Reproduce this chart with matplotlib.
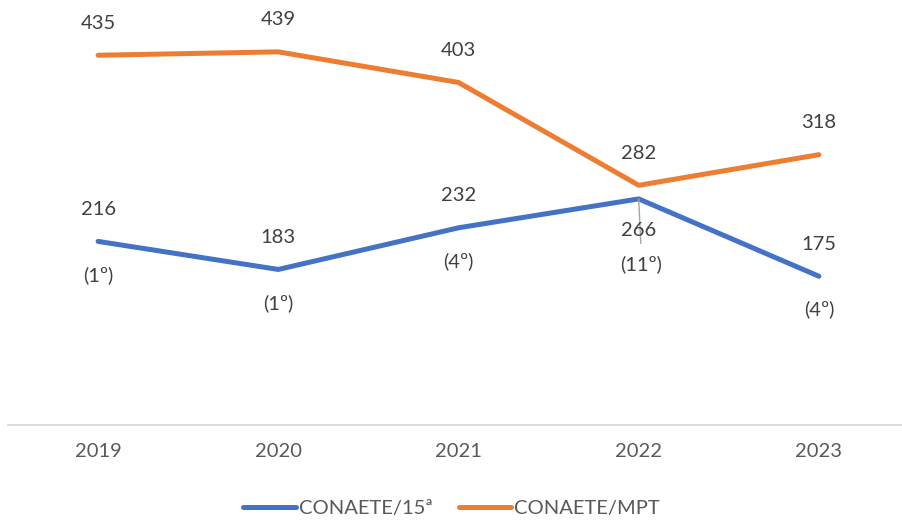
import matplotlib.pyplot as plt
from matplotlib.lines import Line2D

plt.rcParams["font.family"] = ["Lato", "DejaVu Sans"]

years = ["2019", "2020", "2021", "2022", "2023"]
conaete_15 = [216, 183, 232, 266, 175]
ranks_15 = ["(1º)", "(1º)", "(4º)", "(11º)", "(4º)"]
conaete_mpt = [435, 439, 403, 282, 318]

blue = "#4472C4"
orange = "#ED7D31"
label_col = "#404040"
axis_col = "#595959"
fs = 14.5
lw = 3.6

fig = plt.figure(figsize=(9.03, 5.22), dpi=100)
ax = fig.add_axes([8 / 903, 1 - 425 / 522, 901 / 903, 425 / 522])

x = list(range(len(years)))
ax.plot(x, conaete_15, color=blue, lw=lw, solid_capstyle="round",
        solid_joinstyle="round", label="CONAETE/15ª")
ax.plot(x, conaete_mpt, color=orange, lw=lw, solid_capstyle="round",
        solid_joinstyle="round", label="CONAETE/MPT")

ax.set_xlim(-0.5, 4.5)
ax.set_ylim(0, 500)

# value labels
for i, v in enumerate(conaete_mpt):
    ax.annotate(str(v), (i, v), xytext=(0, 23), textcoords="offset points",
                ha="center", va="center", fontsize=fs, color=label_col)

for i, (v, r) in enumerate(zip(conaete_15, ranks_15)):
    if i == 3:
        # label moved below the point, with a leader line
        ax.annotate("", (i, v), xytext=(1.5, -32), textcoords="offset points",
                    arrowprops=dict(arrowstyle="-", color="#A6A6A6", lw=1,
                                    shrinkA=0, shrinkB=0))
        ax.annotate(str(v), (i, v), xytext=(0, -23), textcoords="offset points",
                    ha="center", va="center", fontsize=fs, color=label_col)
        ax.annotate(r, (i, v), xytext=(2, -47), textcoords="offset points",
                    ha="center", va="center", fontsize=fs, color=label_col)
    else:
        ax.annotate(str(v), (i, v), xytext=(0, 23), textcoords="offset points",
                    ha="center", va="center", fontsize=fs, color=label_col)
        ax.annotate(r, (i, v), xytext=(0, -24), textcoords="offset points",
                    ha="center", va="center", fontsize=fs, color=label_col)

ax.set_xticks(x)
ax.set_xticklabels(years, fontsize=fs, color=axis_col)
ax.tick_params(axis="x", length=0, pad=13)
ax.set_yticks([])
for side in ["top", "right", "left"]:
    ax.spines[side].set_visible(False)
ax.spines["bottom"].set_color("#D9D9D9")
ax.spines["bottom"].set_linewidth(1.3)

handles = [Line2D([], [], color=blue, lw=lw, solid_capstyle="round"),
           Line2D([], [], color=orange, lw=lw, solid_capstyle="round")]
fig.legend(handles, ["CONAETE/15ª", "CONAETE/MPT"], loc="center",
           bbox_to_anchor=(0.5, 1 - 508 / 522), ncol=2, frameon=False,
           fontsize=fs, labelcolor=axis_col, handlelength=2.6,
           handletextpad=0.15, columnspacing=1.3)

fig.savefig("out.png", dpi=100)
